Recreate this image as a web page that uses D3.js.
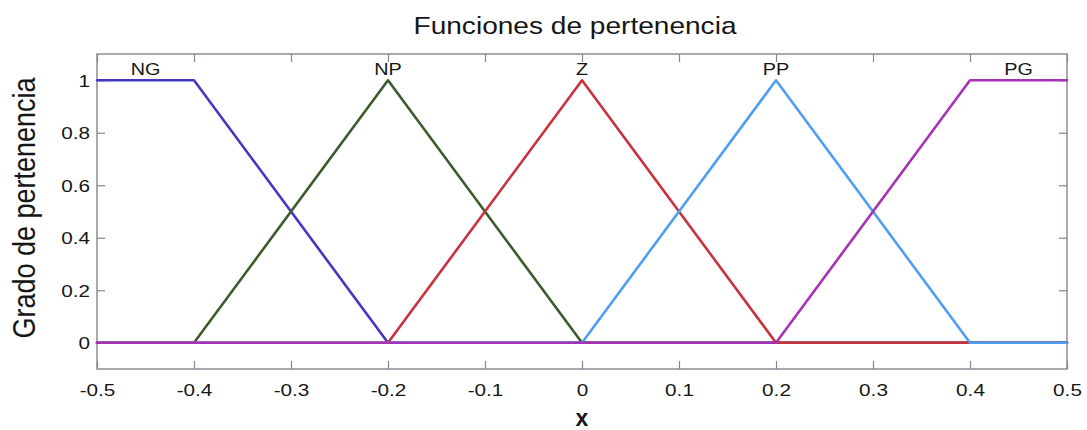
<!DOCTYPE html>
<html>
<head>
<meta charset="utf-8">
<script src="https://cdn.jsdelivr.net/npm/d3@7"></script>
<style>
  html, body { margin: 0; padding: 0; background: #fff; }
  svg { display: block; font-family: "Liberation Sans", Arial, sans-serif; }
</style>
</head>
<body>
<svg id="chart" width="1087" height="430"></svg>
<script>
// Membership functions: breakpoints (x, grade) for each fuzzy set
const setNames = ["NG", "NP", "Z", "PP", "PG"];
const setColors = ["#4338c2", "#3c5a2c", "#c8323d", "#4f9ef3", "#a633b6"];
const ngPoints = [[-0.5, 1], [-0.4, 1], [-0.2, 0], [0.5, 0]];
const npPoints = [[-0.5, 0], [-0.4, 0], [-0.2, 1], [0, 0], [0.5, 0]];
const zPoints  = [[-0.5, 0], [-0.2, 0], [0, 1], [0.2, 0], [0.5, 0]];
const ppPoints = [[-0.5, 0], [0, 0], [0.2, 1], [0.4, 0], [0.5, 0]];
const pgPoints = [[-0.5, 0], [0.2, 0], [0.4, 1], [0.5, 1]];
const seriesPoints = [ngPoints, npPoints, zPoints, ppPoints, pgPoints];
// Where each set's name is written (x position)
const labelX = [-0.45, -0.2, 0, 0.2, 0.45];

const xTicks = [-0.5, -0.4, -0.3, -0.2, -0.1, 0, 0.1, 0.2, 0.3, 0.4, 0.5];
const xTickLabels = ["-0.5", "-0.4", "-0.3", "-0.2", "-0.1", "0", "0.1", "0.2", "0.3", "0.4", "0.5"];
const yTicks = [0, 0.2, 0.4, 0.6, 0.8, 1];
const yTickLabels = ["0", "0.2", "0.4", "0.6", "0.8", "1"];
const xDomain = [-0.5, 0.5];
const yDomain = [-0.1, 1.1];

const svg = d3.select("#chart");
const plotLeft = 97, plotRight = 1067, plotTop = 54, plotBottom = 369;

const x = d3.scaleLinear().domain(xDomain).range([plotLeft, plotRight]);
const y = d3.scaleLinear().domain(yDomain).range([plotBottom, plotTop]);

const axisColor = "#8c8291";
const textColor = "#161616";
const tickLen = 8;
// Glyphs are drawn slightly widened horizontally
const wide = 1.22;

// Plot box
svg.append("rect")
  .attr("x", plotLeft).attr("y", plotTop)
  .attr("width", plotRight - plotLeft).attr("height", plotBottom - plotTop)
  .attr("fill", "#fff").attr("stroke", axisColor).attr("stroke-width", 1.4);

// Axes with inward ticks on all four sides
const xFmt = d => xTickLabels[xTicks.indexOf(d)];
const yFmt = d => yTickLabels[yTicks.indexOf(d)];

const xAxisB = svg.append("g").attr("transform", `translate(0,${plotBottom})`)
  .call(d3.axisBottom(x).tickValues(xTicks).tickSizeInner(-tickLen).tickSizeOuter(0).tickPadding(12).tickFormat(xFmt));
const xAxisT = svg.append("g").attr("transform", `translate(0,${plotTop})`)
  .call(d3.axisTop(x).tickValues(xTicks).tickSizeInner(-tickLen).tickSizeOuter(0).tickFormat(""));
const yAxisL = svg.append("g").attr("transform", `translate(${plotLeft},0)`)
  .call(d3.axisLeft(y).tickValues(yTicks).tickSizeInner(-tickLen).tickSizeOuter(0).tickFormat(yFmt));
const yAxisR = svg.append("g").attr("transform", `translate(${plotRight},0)`)
  .call(d3.axisRight(y).tickValues(yTicks).tickSizeInner(-tickLen).tickSizeOuter(0).tickFormat(""));

[xAxisB, xAxisT, yAxisL, yAxisR].forEach(g => {
  g.select(".domain").remove();
  g.selectAll(".tick line").attr("stroke", axisColor).attr("stroke-width", 1.2);
  g.selectAll(".tick text")
    .attr("fill", textColor)
    .style("font-family", '"Liberation Sans", Arial, sans-serif')
    .style("font-size", "17px");
});
xAxisB.selectAll(".tick text")
  .attr("dy", "0.9em")
  .attr("transform", `scale(${wide},1)`);
yAxisL.selectAll(".tick text")
  .attr("x", 0)
  .attr("dy", "0.36em")
  .attr("transform", `translate(-7,0) scale(${wide},1)`);

// Membership curves
const line = d3.line().x(d => x(d[0])).y(d => y(d[1]));
const curves = svg.append("g")
  .attr("fill", "none")
  .attr("stroke-width", 2.6)
  .attr("stroke-linejoin", "round")
  .attr("stroke-linecap", "round");
seriesPoints.forEach((pts, i) => {
  curves.append("path")
    .attr("d", line(pts))
    .attr("stroke", setColors[i]);
});

// Set names above the peaks
svg.append("g").selectAll("text")
  .data(setNames)
  .join("text")
  .attr("transform", (d, i) => `translate(${x(labelX[i])},${y(1.02)}) scale(1.2,1)`)
  .attr("text-anchor", "middle")
  .attr("fill", textColor)
  .style("font-size", "16.5px")
  .text(d => d);

// Titles
svg.append("text")
  .attr("transform", "translate(575,34) scale(1.17,1)")
  .attr("text-anchor", "middle")
  .attr("fill", textColor)
  .style("font-size", "24px")
  .text("Funciones de pertenencia");

svg.append("text")
  .attr("transform", "translate(35,208) scale(1.17,1) rotate(-90)")
  .attr("text-anchor", "middle")
  .attr("fill", textColor)
  .style("font-size", "27px")
  .text("Grado de pertenencia");

svg.append("text")
  .attr("x", (plotLeft + plotRight) / 2).attr("y", 426)
  .attr("text-anchor", "middle")
  .attr("fill", textColor)
  .style("font-size", "23px")
  .style("font-weight", "bold")
  .text("x");
</script>
</body>
</html>
